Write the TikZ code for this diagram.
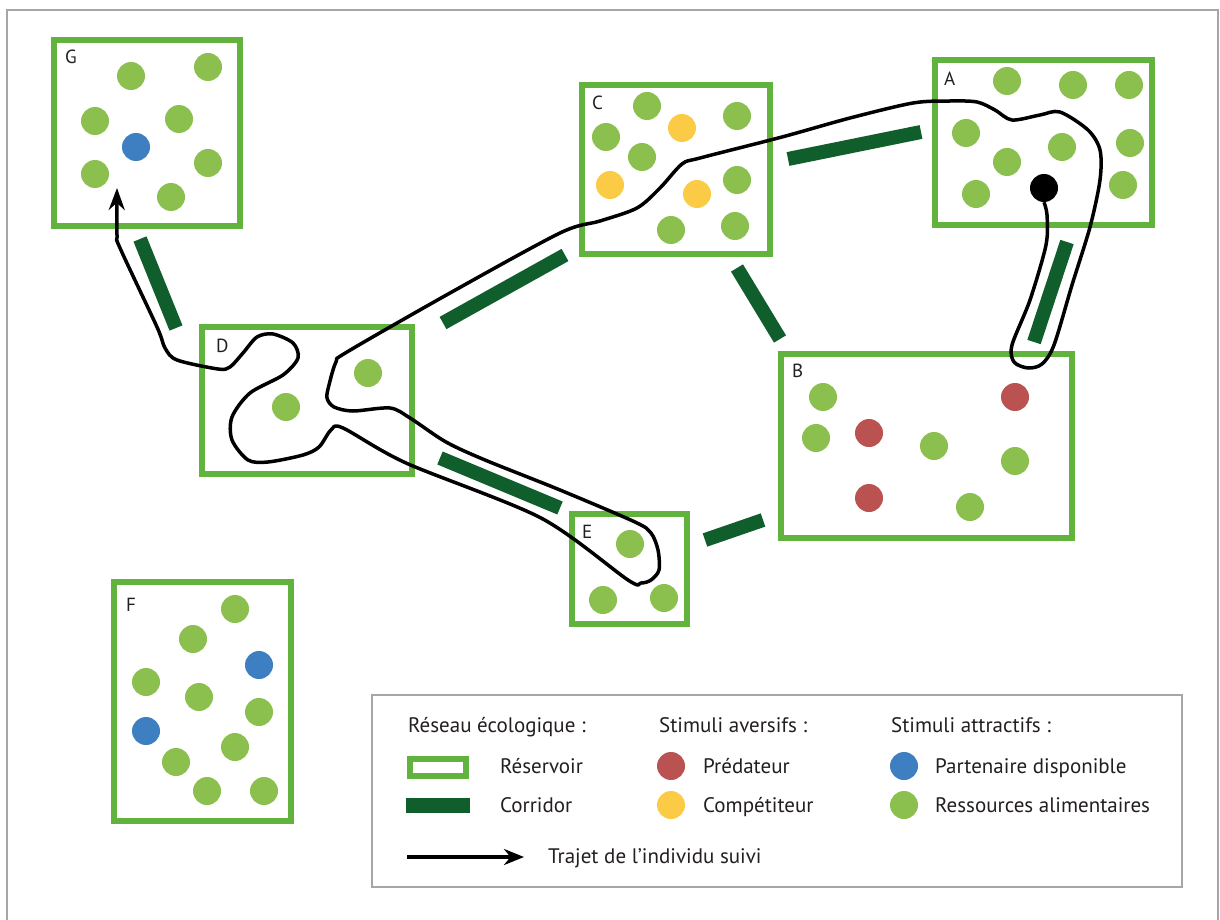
\documentclass[tikz,border=0pt]{standalone}
\usepackage{fontspec}
\setmainfont{PT Sans}
\usetikzlibrary{arrows.meta}
\definecolor{resvert}{HTML}{62B23E}
\definecolor{corrvert}{HTML}{0F5E2B}
\definecolor{alimvert}{HTML}{8BC04F}
\definecolor{predrouge}{HTML}{BA5252}
\definecolor{compjaune}{HTML}{FCCB45}
\definecolor{partbleu}{HTML}{3E7FC1}
\definecolor{cadregris}{HTML}{A6A6A6}
\definecolor{encre}{HTML}{231F20}

\begin{document}
\begin{tikzpicture}[x=1pt, y=-1pt, >={Stealth[length=22pt, width=16pt]},
  reservoir/.style={draw=resvert, line width=6pt, inner sep=0},
  corridor/.style={draw=corrvert, line width=14pt},
  ress/.style={circle, fill=alimvert, minimum size=28pt, inner sep=0},
  pred/.style={ress, fill=predrouge},
  comp/.style={ress, fill=compjaune},
  part/.style={ress, fill=partbleu},
  indivnoir/.style={ress, fill=black},
  lettre/.style={anchor=base west, inner sep=0, font=\fontsize{19}{19}\selectfont, text=encre},
  legtxt/.style={anchor=base west, inner sep=0, font=\fontsize{21}{22}\selectfont, text=encre},
  trajet/.style={line width=3.5pt, line join=round, draw=black}]
  \useasboundingbox (0,0) rectangle (1220,920);
  \fill[white] (0,0) rectangle (1220,920);
  % cadre
  \draw[cadregris, line width=2pt] (7,925) -- (7,10) -- (1218,10) -- (1218,925);
  % corridors
  \draw[corridor] (140,239) -- (176,328);
  \draw[corridor] (443,323) -- (565,255);
  \draw[corridor] (788,159) -- (921,132);
  \draw[corridor] (737,268) -- (780,339);
  \draw[corridor] (1067,242) -- (1034,342);
  \draw[corridor] (440,458) -- (560,508);
  \draw[corridor] (705,540) -- (763,520);
  % reservoirs
  \node[reservoir, minimum width=186pt, minimum height=186pt] (resG) at (147,133) {};
  \node[reservoir, minimum width=210pt, minimum height=147pt] (resD) at (307,400.5) {};
  \node[reservoir, minimum width=188pt, minimum height=169pt] (resC) at (676,169.5) {};
  \node[reservoir, minimum width=217pt, minimum height=165pt] (resA) at (1043.5,142.5) {};
  \node[reservoir, minimum width=291pt, minimum height=184pt] (resB) at (926.5,446) {};
  \node[reservoir, minimum width=115pt, minimum height=110pt] (resE) at (629.5,569) {};
  \node[reservoir, minimum width=177pt, minimum height=239pt] (resF) at (202.5,701.5) {};
  \node[lettre] (lblG) at ([shift={(14,27)}]resG.north west) {G};
  \node[lettre] (lblD) at ([shift={(17,28)}]resD.north west) {D};
  \node[lettre] (lblC) at ([shift={(13,28)}]resC.north west) {C};
  \node[lettre] (lblA) at ([shift={(12,29)}]resA.north west) {A};
  \node[lettre] (lblB) at ([shift={(14,26)}]resB.north west) {B};
  \node[lettre] (lblE) at ([shift={(13,27)}]resE.north west) {E};
  \node[lettre] (lblF) at ([shift={(15,32)}]resF.north west) {F};
  % ressources
  \foreach \x/\y [count=\i] in {131/76, 208/67, 95/121, 179/119, 95/174, 208/163, 171/197}
    \node[ress] (g\i) at (\x,\y) {};
  \node[part] (gp) at (136,147) {};
  \foreach \x/\y [count=\i] in {368/373, 286/407}
    \node[ress] (d\i) at (\x,\y) {};
  \foreach \x/\y [count=\i] in {647/106, 737/116, 606/137, 642/157, 737/180, 671/230, 735/226}
    \node[ress] (c\i) at (\x,\y) {};
  \foreach \x/\y [count=\i] in {682/128, 610/185, 697/194}
    \node[comp] (cc\i) at (\x,\y) {};
  \foreach \x/\y [count=\i] in {1007/81, 1073/85, 1129/85, 966/133, 1062/147, 1130/143, 1007/162, 976/194, 1123/185}
    \node[ress] (a\i) at (\x,\y) {};
  \node[indivnoir] (indiv) at (1044,188) {};
  \foreach \x/\y [count=\i] in {823/397, 816/438, 934/446, 1015/461, 970/507}
    \node[ress] (b\i) at (\x,\y) {};
  \foreach \x/\y [count=\i] in {1015/397, 869/433, 869/498}
    \node[pred] (bp\i) at (\x,\y) {};
  \foreach \x/\y [count=\i] in {630/544, 603/600, 664/598}
    \node[ress] (e\i) at (\x,\y) {};
  \foreach \x/\y [count=\i] in {235/609, 193/639, 146/682, 199/697, 259/712, 235/747, 176/762, 207/791, 264/791}
    \node[ress] (f\i) at (\x,\y) {};
  \foreach \x/\y [count=\i] in {259/665, 146/731}
    \node[part] (fp\i) at (\x,\y) {};
  % trajet
  \draw[trajet, ->] plot[smooth, tension=0.5] coordinates {(indiv.south) (1047,215)
    (1046,245) (1030,300) (1012,345) (1014,362) (1028,368) (1042,364) (1054,345)
    (1072,285) (1090,227) (1100,180) (1100,150) (1088,130) (1060,112) (1040,115)
    (1012,120) (995,110) (977,102) (950,101) (913,103) (850,118) (782,137) (700,158)
    (682,164) (660,188) (637,208) (600,221) (560,233) (450,293) (347,352) (336,362)
    (329,385) (327,398) (334,407) (353,411) (390,408) (410,418) (446,442) (485,460)
    (560,490) (635,522) (651,533) (658,550) (659,570) (651,580) (641,583) (628,580)
    (541,518) (406,463) (343,428) (331,430) (319,447) (303,455) (268,462)
    (248,460) (232,440) (232,417) (250,393) (283,375) (298,358) (293,343) (273,334)
    (257,337) (243,353) (230,367) (218,369) (177,360) (165,348) (157,327) (120,248)
    (117,235) (117,188)};
  % legende
  \node[draw=cadregris, line width=1.2pt, minimum width=810pt, minimum height=192pt, inner sep=0] (legende) at (777,791) {};
  \node[legtxt] (hres) at (408,732) {Réseau écologique :};
  \node[legtxt] (hav) at (659,732) {Stimuli aversifs :};
  \node[legtxt] (hat) at (891,732) {Stimuli attractifs :};
  \node[reservoir, line width=5.5pt, minimum width=56pt, minimum height=17pt] (legres) at (438,767.5) {};
  \node[legtxt] (tres) at (500,773) {Réservoir};
  \draw[corridor, line width=15pt] (406,805) -- (470,805);
  \node[legtxt] (tcorr) at (500,812) {Corridor};
  \node[pred] (legpred) at (671,766) {};
  \node[legtxt] (tpred) at (703,773) {Prédateur};
  \node[comp] (legcomp) at (671,805) {};
  \node[legtxt] (tcomp) at (703,812) {Compétiteur};
  \node[part] (legpart) at (904,766) {};
  \node[legtxt] (tpart) at (935,773) {Partenaire disponible};
  \node[ress] (legress) at (904,805) {};
  \node[legtxt] (tress) at (935,812) {Ressources alimentaires};
  \coordinate (legA) at (407,857);
  \coordinate (legB) at (524,857);
  \draw[trajet, ->, >={Stealth[length=20pt, width=16pt]}] (legA) -- (legB);
  \node[legtxt] (ttraj) at (548,863) {Trajet de l’individu suivi};
\end{tikzpicture}
\end{document}
